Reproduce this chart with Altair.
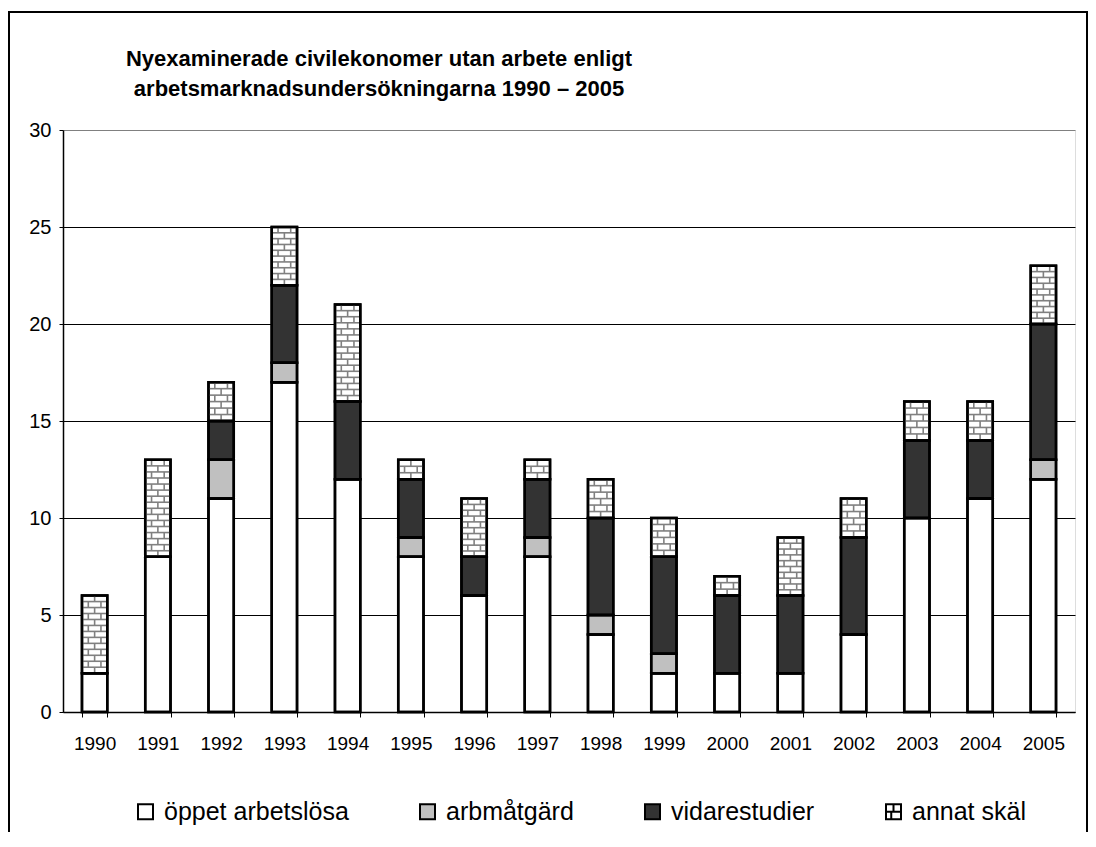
import altair as alt
import pandas as pd

# ---- data ----
years = [str(y) for y in range(1990, 2006)]
oppet = [2, 8, 11, 17, 12, 8, 6, 8, 4, 2, 2, 2, 4, 10, 11, 12]
arbmatgard = [0, 0, 2, 1, 0, 1, 0, 1, 1, 1, 0, 0, 0, 0, 0, 1]
vidarestudier = [0, 0, 2, 4, 4, 3, 2, 3, 5, 5, 4, 4, 5, 4, 3, 7]
annat = [4, 5, 2, 3, 5, 1, 3, 1, 2, 2, 1, 3, 2, 2, 2, 3]
categories = ["öppet arbetslösa", "arbmåtgärd", "vidarestudier", "annat skäl"]
fill_colors = ["#ffffff", "#c0c0c0", "#333333", "#ffffff"]
title_lines = ["Nyexaminerade civilekonomer utan arbete enligt",
               "arbetsmarknadsundersökningarna 1990 – 2005"]
y_ticks = [0, 5, 10, 15, 20, 25, 30]

# ---- stacked segments ----
rows = []
for i, yr in enumerate(years):
    base = 0
    for k, (cat, vals) in enumerate(zip(categories, [oppet, arbmatgard, vidarestudier, annat])):
        v = vals[i]
        rows.append({"yr": yr, "kat": cat, "v": v, "y0": base, "y1": base + v, "ord": k})
        base += v
seg = pd.DataFrame(rows)
seg_nz = seg[seg.v > 0]

# ---- brick pattern for "annat skäl" (derived from the segments) ----
pitch = 0.31
hlines, joints = [], []
for _, r in seg_nz[seg_nz.kat == "annat skäl"].iterrows():
    n = max(1, round(r.v / pitch))
    p = r.v / n
    for k in range(n):
        lo = r.y0 + k * p
        hi = r.y0 + (k + 1) * p
        if k > 0:
            hlines.append({"yr": r.yr, "yl": lo})
        joints.append({"yr": r.yr, "ya": lo, "yb": hi, "par": k % 2})
hl = pd.DataFrame(hlines)
jt = pd.DataFrame(joints)

W, H = 1012, 582
FONT = "Liberation Sans"
mortar = "#808080"

xscale = alt.Scale(domain=years, paddingInner=0.6, paddingOuter=0.3)
yscale = alt.Scale(domain=[0, 30], nice=False)

color_scale = alt.Scale(domain=categories, range=fill_colors)
shape_scale = alt.Scale(domain=categories,
                        range=["square", "square", "square",
                               "M-1,-1H1V1H-1Z M-1,0H1 M0,-1V0 M-0.3,0V1"])
legend = alt.Legend(orient="none", legendX=70, legendY=669, direction="horizontal",
                    columns=4, columnPadding=66, symbolSize=225, symbolStrokeWidth=2,
                    symbolStrokeColor="black", labelFontSize=25, labelFont=FONT,
                    labelColor="black", labelOffset=6, labelLimit=400, title=None)

xaxis = alt.Axis(title=None, labelAngle=0, tickBand="extent", labelFont=FONT,
                 labelFontSize=19, labelColor="black", tickSize=5, tickColor="black",
                 tickWidth=1, domainColor="black", domainWidth=1.5, labelPadding=17,
                 grid=False)
yaxis = alt.Axis(title=None, values=y_ticks, labelFont=FONT, labelFontSize=20,
                 labelColor="black", tickSize=4, tickColor="black", tickWidth=1,
                 domainColor="black", domainWidth=1.5, labelPadding=8, grid=True,
                 gridColor=alt.condition("datum.value >= 30", alt.value(mortar), alt.value("black")),
                 gridWidth=1)

bars = alt.Chart(seg_nz).mark_bar(stroke="black", strokeWidth=2.5).encode(
    x=alt.X("yr:N", scale=xscale, axis=xaxis, sort=years),
    y=alt.Y("y0:Q", scale=yscale, axis=yaxis),
    y2="y1:Q",
    fill=alt.Fill("kat:N", scale=color_scale, legend=legend),
)

legend_pts = alt.Chart(seg).transform_filter("datum.v < 0").mark_point(
    filled=True, stroke="black", strokeWidth=2, opacity=1).encode(
    x=alt.X("yr:N", scale=xscale, sort=years),
    y=alt.Y("y1:Q", scale=yscale),
    fill=alt.Fill("kat:N", scale=color_scale, legend=legend),
    shape=alt.Shape("kat:N", scale=shape_scale, legend=legend),
)

hbricks = alt.Chart(hl).mark_tick(color=mortar, thickness=1.6, size=24, opacity=1).encode(
    x=alt.X("yr:N", scale=xscale, sort=years),
    y=alt.Y("yl:Q", scale=yscale),
)

def joint_layer(parity, pos):
    return alt.Chart(jt).transform_filter(f"datum.par == {parity}").mark_rule(
        color=mortar, strokeWidth=1.6).encode(
        x=alt.X("yr:N", scale=xscale, sort=years, bandPosition=pos),
        y=alt.Y("ya:Q", scale=yscale),
        y2="yb:Q",
    )

outline = alt.Chart(seg_nz).mark_bar(filled=False, stroke="black", strokeWidth=2.5).encode(
    x=alt.X("yr:N", scale=xscale, sort=years),
    y=alt.Y("y0:Q", scale=yscale),
    y2="y1:Q",
)

frame = alt.Chart(pd.DataFrame({"a": [0]})).mark_rect(
    fillOpacity=0, stroke="black", strokeWidth=2, clip=False).encode(
    x=alt.value(-54), x2=alt.value(W + 12), y=alt.value(-118), y2=alt.value(H + 160))

chart = alt.layer(
    bars, legend_pts, hbricks, joint_layer(0, 0.5), joint_layer(1, 0.25),
    joint_layer(1, 0.75), outline, frame
).properties(
    width=W, height=H,
    title=alt.TitleParams(text=title_lines, font=FONT, fontSize=22, fontWeight="bold",
                          color="black", anchor="start", align="center", dx=316, dy=112,
                          lineHeight=30, offset=22, frame="group"),
    autosize=alt.AutoSizeParams(type="none"),
    padding={"left": 55, "top": 122, "right": 13, "bottom": 120},
).configure_view(stroke=mortar, strokeWidth=2).configure(background="white")

chart.save("out.html", embed_options={"renderer": "svg", "actions": False})
